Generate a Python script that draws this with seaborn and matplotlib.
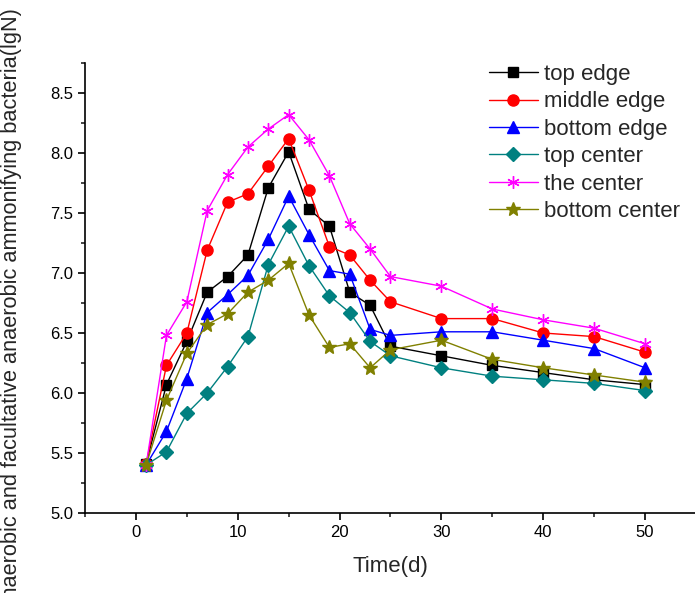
import matplotlib
matplotlib.use("Agg")
import matplotlib.pyplot as plt
import pandas as pd
import seaborn as sns
from matplotlib.ticker import MultipleLocator, FormatStrFormatter

# sampling days
days = [1, 3, 5, 7, 9, 11, 13, 15, 17, 19, 21, 23, 25, 30, 35, 40, 45, 50]

# bacteria counts (lgN)
top_edge = [5.41, 6.07, 6.43, 6.84, 6.97, 7.15, 7.71, 8.01, 7.53, 7.39, 6.84, 6.73, 6.39, 6.31, 6.23, 6.17, 6.11, 6.07]
middle_edge = [5.41, 6.23, 6.50, 7.19, 7.59, 7.66, 7.89, 8.12, 7.69, 7.22, 7.15, 6.94, 6.76, 6.62, 6.62, 6.50, 6.47, 6.34]
bottom_edge = [5.40, 5.68, 6.12, 6.67, 6.82, 6.98, 7.28, 7.64, 7.32, 7.02, 6.99, 6.53, 6.48, 6.51, 6.51, 6.44, 6.37, 6.21]
top_center = [5.40, 5.51, 5.83, 6.00, 6.22, 6.47, 7.07, 7.39, 7.06, 6.81, 6.67, 6.43, 6.31, 6.21, 6.14, 6.11, 6.08, 6.02]
the_center = [5.40, 6.48, 6.76, 7.52, 7.82, 8.05, 8.20, 8.32, 8.11, 7.81, 7.41, 7.20, 6.97, 6.89, 6.70, 6.61, 6.54, 6.41]
bottom_center = [5.40, 5.94, 6.33, 6.57, 6.66, 6.84, 6.94, 7.08, 6.65, 6.38, 6.41, 6.21, 6.36, 6.44, 6.28, 6.21, 6.15, 6.09]

series_names = ['top edge', 'middle edge', 'bottom edge', 'top center', 'the center', 'bottom center']
series_values = [top_edge, middle_edge, bottom_edge, top_center, the_center, bottom_center]
colors = ['#000000', '#FF0000', '#0000FF', '#008080', '#FF00FF', '#808000']
markers = ['s', 'o', '^', 'D', (6, 2, 0), '*']
marker_sizes = [7.5, 8, 8, 7, 9, 10]

sns.set_style('ticks')
plt.rcParams['font.family'] = ['Liberation Sans', 'DejaVu Sans']

fig = plt.figure(figsize=(6.95, 5.93), dpi=100)
ax = fig.add_axes([85 / 695, 80 / 593, 611 / 695, 450 / 593])

for name, vals, c, m, ms in zip(series_names, series_values, colors, markers, marker_sizes):
    d = pd.DataFrame({'Time(d)': days, 'value': vals})
    sns.lineplot(data=d, x='Time(d)', y='value', color=c, marker=m, markersize=ms,
                 markeredgecolor=c, markerfacecolor=c, markeredgewidth=1,
                 linewidth=1, label=name, ax=ax)

ax.set_xlim(-5, 55)
ax.set_ylim(5.0, 8.75)
ax.xaxis.set_major_locator(MultipleLocator(10))
ax.xaxis.set_minor_locator(MultipleLocator(5))
ax.yaxis.set_major_locator(MultipleLocator(0.5))
ax.yaxis.set_minor_locator(MultipleLocator(0.25))
ax.yaxis.set_major_formatter(FormatStrFormatter('%.1f'))
ax.tick_params(which='major', direction='out', length=5, width=1.2, labelsize=12, colors='black')
ax.tick_params(which='minor', direction='out', length=3, width=1.2)
sns.despine(ax=ax)
for sp in ['left', 'bottom']:
    ax.spines[sp].set_linewidth(1.2)
    ax.spines[sp].set_color('black')

ax.set_xlabel('Time(d)', fontsize=16, labelpad=12)
# the reference crops the start of this label at the bottom edge
ax.set_ylabel('Anaerobic and facultative anaerobic ammonifying bacteria(lgN)', fontsize=15.7)
ax.yaxis.set_label_coords((12 - 85) / 611, (585 - 80) / 450)
ax.yaxis.label.set_ha('right')
ax.yaxis.label.set_va('center')

leg = ax.legend(loc='upper left', bbox_to_anchor=(480 / 695, 1 - 55 / 593),
                bbox_transform=fig.transFigure, frameon=False, fontsize=16,
                handlelength=2.2, handletextpad=0.3, labelspacing=0.29, borderaxespad=0)

fig.savefig('out.png', dpi=100)
